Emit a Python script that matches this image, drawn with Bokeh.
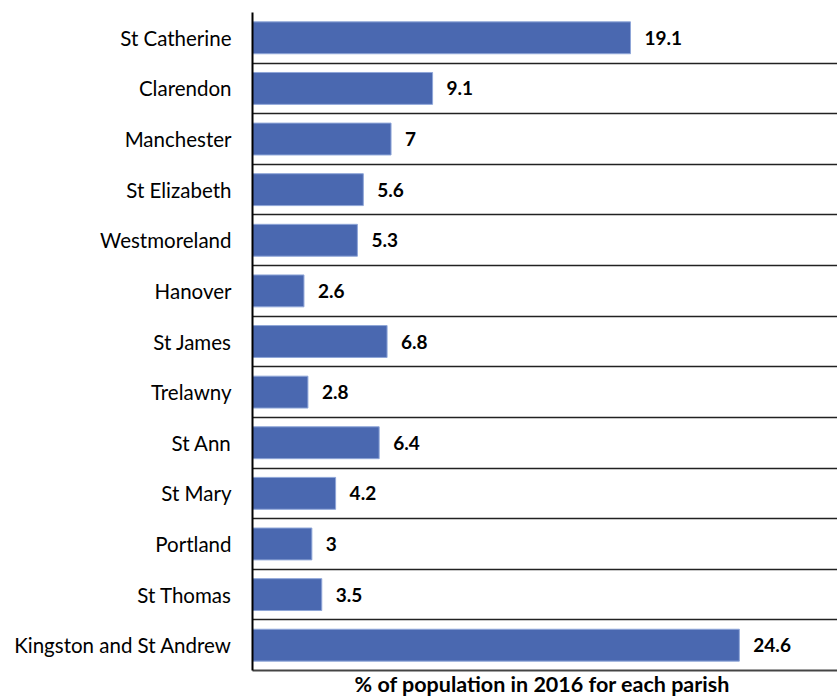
from bokeh.plotting import figure
from bokeh.models import Range1d, FixedTicker, ColumnDataSource, LabelSet
from bokeh.core.properties import value
from bokeh.embed import file_html
from bokeh.resources import INLINE

parishes = ["St Catherine", "Clarendon", "Manchester", "St Elizabeth", "Westmoreland",
            "Hanover", "St James", "Trelawny", "St Ann", "St Mary", "Portland",
            "St Thomas", "Kingston and St Andrew"]
percent = [19.1, 9.1, 7, 5.6, 5.3, 2.6, 6.8, 2.8, 6.4, 4.2, 3, 3.5, 24.6]
value_labels = ["19.1", "9.1", "7", "5.6", "5.3", "2.6", "6.8", "2.8", "6.4", "4.2", "3", "3.5", "24.6"]
axis_title = "% of population  in 2016 for each parish"

n = len(parishes)
ypos = [n - i - 0.5 for i in range(n)]

src = ColumnDataSource(dict(y=ypos, v=percent, lab=value_labels))

p = figure(width=837, height=699, output_backend="svg", toolbar_location=None,
           x_range=Range1d(0, 29.56), y_range=Range1d(0, n))
p.min_border_left = 252
p.min_border_right = 0
p.min_border_top = 12
p.min_border_bottom = 0
p.outline_line_color = None
p.background_fill_color = "white"
p.border_fill_color = "white"

p.hbar(y="y", right="v", left=0, height=0.63, source=src,
       fill_color="#4A68B0", line_color="#8FA6D8", line_width=1)

labels = LabelSet(x="v", y="y", text="lab", source=src, x_offset=14,
                  text_baseline="middle", text_align="left",
                  text_font=value("Lato"), text_font_style="bold", text_font_size="19px",
                  text_color="#000000")
p.add_layout(labels)

# y axis
p.yaxis.ticker = FixedTicker(ticks=ypos)
p.yaxis.major_label_overrides = {y: name for y, name in zip(ypos, parishes)}
p.yaxis.major_tick_line_color = None
p.yaxis.minor_tick_line_color = None
p.yaxis.major_label_standoff = 15
p.yaxis.major_label_text_font = "Lato"
p.yaxis.major_label_text_font_size = "20.5px"
p.yaxis.major_label_text_color = "#000000"
p.yaxis.axis_line_color = "#000000"
p.yaxis.axis_line_width = 2

# x axis
p.xaxis.ticker = FixedTicker(ticks=[])
p.xaxis.major_tick_line_color = None
p.xaxis.minor_tick_line_color = None
p.xaxis.axis_line_color = "#444444"
p.xaxis.axis_line_width = 2
p.xaxis.axis_label = axis_title
p.xaxis.axis_label_text_font = "Lato"
p.xaxis.axis_label_text_font_style = "bold"
p.xaxis.axis_label_text_font_size = "21.5px"
p.xaxis.axis_label_text_color = "#000000"
p.xaxis.axis_label_standoff = 0

# grids
p.xgrid.grid_line_color = None
p.ygrid.ticker = FixedTicker(ticks=list(range(n + 1)))
p.ygrid.grid_line_color = "#222222"
p.ygrid.grid_line_width = 1.3

open("out.html", "w").write(file_html(p, INLINE))
